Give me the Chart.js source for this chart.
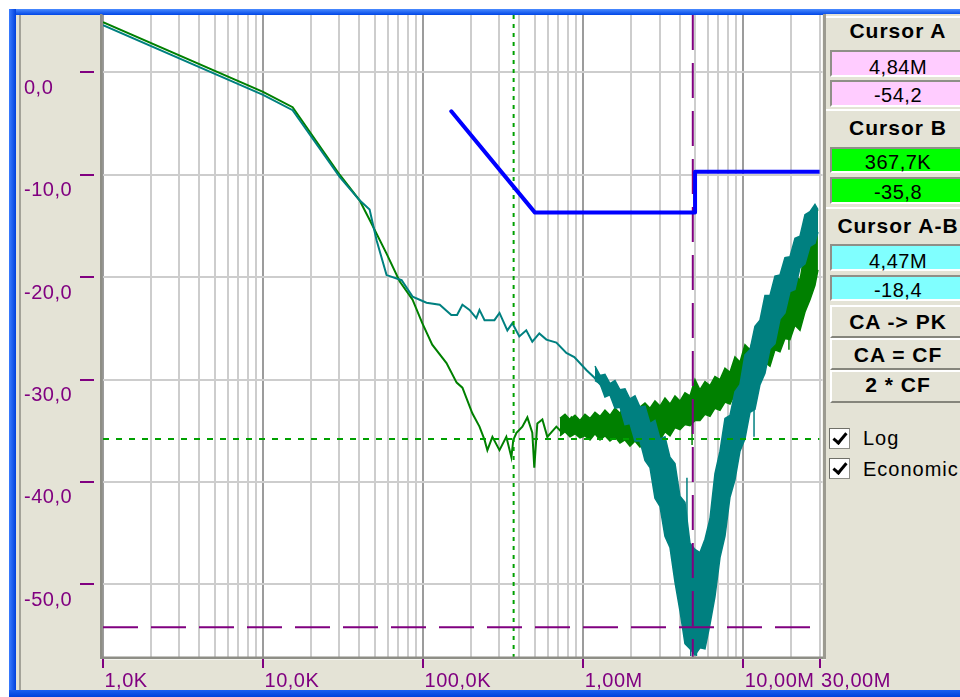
<!DOCTYPE html>
<html><head><meta charset="utf-8">
<script src="https://cdn.jsdelivr.net/npm/chart.js@4.4.1/dist/chart.umd.min.js"></script>
<style>
html,body{margin:0;padding:0;}
body{width:960px;height:697px;overflow:hidden;position:relative;background:#fff;font-family:"Liberation Sans",Arial,sans-serif;}
.abs{position:absolute;}
#c{position:absolute;left:0;top:0;z-index:2;}
#panel{position:absolute;left:823px;top:14px;width:150px;height:645px;background:#E4E3D6;border-left:3px solid #9C9B91;z-index:3;}
.hdr{position:absolute;left:0;width:150px;border-top:2px solid #fff;box-sizing:border-box;}
.box{position:absolute;left:4px;width:150px;box-sizing:border-box;border-top:2px solid #8f8f88;border-left:2px solid #8f8f88;border-bottom:2px solid #fff;}
.pink{background:#FFCCFF;}
.green{background:#00FF00;}
.cyan{background:#80FFFF;}
.btn{position:absolute;left:4px;width:150px;box-sizing:border-box;border-top:2px solid #fff;border-left:2px solid #fff;border-bottom:2px solid #85857c;}
.t{position:absolute;left:0;width:144px;text-align:center;line-height:20px;font-size:20px;letter-spacing:0.5px;color:#000;white-space:nowrap;}
.b{font-weight:bold;font-size:21px;letter-spacing:1px;}
.cb{position:absolute;left:3px;width:21px;height:21px;box-sizing:border-box;background:#fff;border:1px solid #8f8f88;border-top-color:#6f6f68;border-left-color:#6f6f68;}
.cb span{position:absolute;left:6px;top:1px;width:5px;height:11px;border-right:3px solid #000;border-bottom:3px solid #000;transform:rotate(40deg);}
.lt{position:absolute;left:37px;line-height:20px;font-size:20px;letter-spacing:1px;color:#000;white-space:nowrap;}
</style></head>
<body>
<div class="abs" style="left:9px;top:9px;width:951px;height:6px;background:linear-gradient(#4a8bff,#0046e6);"></div>
<div class="abs" style="left:9px;top:9px;width:7px;height:688px;background:linear-gradient(90deg,#3a7cff,#0040dc);"></div>
<div class="abs" style="left:9px;top:690px;width:951px;height:7px;background:linear-gradient(#1a5ef0,#0040dc);"></div>
<div class="abs" style="left:16px;top:15px;width:944px;height:675px;background:#E4E3D6;"></div>
<div class="abs" style="left:19px;top:15px;width:2px;height:675px;background:#A3A298;"></div>
<canvas id="c" width="960" height="697"></canvas>
<div id="panel">
  <div class="hdr" style="top:2px;height:31px"></div>
  <div class="box pink" style="top:36px;height:27px"></div>
  <div class="box pink" style="top:66px;height:27px"></div>
  <div class="hdr" style="top:95px;height:31px"></div>
  <div class="box green" style="top:133px;height:26px"></div>
  <div class="box green" style="top:163px;height:27px"></div>
  <div class="hdr" style="top:193px;height:31px"></div>
  <div class="box cyan" style="top:230px;height:27px"></div>
  <div class="box cyan" style="top:261px;height:26px"></div>
  <div class="btn" style="top:291px;height:33px"></div>
  <div class="btn" style="top:324px;height:32px"></div>
  <div class="btn" style="top:356px;height:33px"></div>
  <div class="t b" style="top:6.5px">Cursor A</div>
  <div class="t" style="top:43px">4,84M</div>
  <div class="t" style="top:70.5px">-54,2</div>
  <div class="t b" style="top:103.5px">Cursor B</div>
  <div class="t" style="top:138px">367,7K</div>
  <div class="t" style="top:168px">-35,8</div>
  <div class="t b" style="top:201.5px">Cursor A-B</div>
  <div class="t" style="top:236.5px">4,47M</div>
  <div class="t" style="top:265.5px">-18,4</div>
  <div class="t b" style="top:297.5px">CA -&gt; PK</div>
  <div class="t b" style="top:330.5px">CA = CF</div>
  <div class="t b" style="top:361px">2 * CF</div>
  <div class="cb" style="top:414px"><span></span></div>
  <div class="cb" style="top:444px"><span></span></div>
  <div class="lt" style="top:414px">Log</div>
  <div class="lt" style="top:444.5px">Economic</div>
</div>
<script>
// ---- axis ranges ----
const X_MIN = 1000, X_MAX = 30e6;
const Y_MIN = -57.1, Y_MAX = 5.6;
const xTickValues = [1e3, 1e4, 1e5, 1e6, 1e7, 3e7];
const xTickLabels = ['1,0K', '10,0K', '100,0K', '1,00M', '10,00M', '30,00M'];
const yTickValues = [0, -10, -20, -30, -40, -50];
const yTickLabels = ['0,0', '-10,0', '-20,0', '-30,0', '-40,0', '-50,0'];

// ---- green trace (thin part), freq in kHz, level in dB ----
const greenLineKHz = [1, 10, 15.3, 30.1, 40.1, 46.3, 59.1, 71.3, 85.9, 98.8, 114, 140, 162, 176, 203, 225, 242, 252, 271, 300, 331, 356, 366, 383, 417, 448, 481, 495, 517, 556, 597, 680, 741, 844, 946, 1061, 1207, 1374, 1564, 1729];
const greenLineDb = [4.9, -1.9, -3.4, -10.0, -12.5, -14.4, -17.7, -20.4, -22.2, -24.5, -26.6, -28.4, -30.3, -30.8, -33.3, -34.6, -35.9, -36.9, -35.6, -36.9, -35.6, -37.6, -35.9, -35.2, -34.6, -33.7, -35.2, -38.6, -34.3, -33.9, -35.6, -34.6, -35.2, -33.7, -34.6, -33.9, -35.1, -33.8, -35.0, -33.5];
// green noise band (upper / lower edge)
const greenBandKHz = [716, 770, 827, 889, 955, 1026, 1103, 1185, 1274, 1368, 1470, 1580, 1698, 1825, 1961, 2107, 2264, 2433, 2615, 2809, 3019, 3244, 3486, 3746, 4025, 4325, 4648, 4994, 5367, 5768, 6197, 6659, 7156, 7690, 8263, 8879, 9541, 10254, 11017, 11838, 12722, 13670, 14689, 15786, 16962, 18226, 19589, 21049, 22622, 24308, 26119, 28069, 29300];
const greenBandHi = [-33.8, -33.4, -33.9, -33.5, -34.0, -33.4, -33.8, -33.2, -33.6, -33.0, -33.5, -32.8, -33.3, -32.4, -33.0, -32.2, -32.7, -32.3, -32.8, -32.1, -32.6, -31.8, -32.4, -31.6, -32.1, -31.3, -31.6, -30.0, -31.0, -30.2, -30.6, -29.7, -30.0, -28.9, -29.3, -27.8, -28.3, -26.6, -27.1, -25.5, -26.0, -24.2, -24.8, -22.7, -23.4, -21.3, -21.8, -19.8, -20.3, -17.4, -16.4, -13.9, -13.4];
const greenBandLo = [-35.5, -35.1, -35.6, -35.3, -35.7, -35.5, -35.9, -35.3, -35.9, -35.5, -36.0, -35.6, -36.2, -35.9, -36.5, -36.0, -36.6, -35.9, -36.3, -35.6, -35.9, -35.1, -35.5, -34.7, -34.9, -34.4, -34.5, -34.0, -34.0, -33.4, -33.6, -32.8, -33.0, -32.2, -32.4, -31.4, -31.6, -30.5, -30.8, -29.6, -29.9, -28.3, -28.7, -27.1, -27.3, -26.0, -26.1, -24.7, -25.2, -23.4, -22.2, -20.8, -19.3];
const greenSpikeKHz = [4790, 19300];
const greenSpikeTop = [-33.8, -24.8];
const greenSpikeBot = [-36.4, -27.1];

// ---- teal trace ----
const tealLineKHz = [1, 10, 15.3, 30.1, 40.1, 46.3, 51.2, 59.1, 73.4, 85.9, 105, 127, 150, 163, 176, 195, 215, 225, 242, 279, 300, 336, 361, 399, 441, 481, 532, 589, 680, 785, 880, 1050, 1173, 1318, 1497];
const tealLineDb = [4.6, -2.2, -3.7, -10.2, -12.5, -13.4, -16.4, -19.8, -20.3, -21.9, -22.5, -22.7, -23.7, -23.7, -22.7, -23.2, -24.0, -23.2, -24.2, -24.2, -23.5, -25.2, -24.5, -25.8, -25.2, -26.3, -25.5, -26.1, -26.4, -27.4, -27.8, -29.1, -29.8, -30.7, -31.5];
const tealBandKHz = [1185, 1274, 1368, 1470, 1580, 1698, 1825, 1961, 2107, 2264, 2433, 2615, 2809, 3019, 3244, 3486, 3746, 4025, 4325, 4648, 4994, 5367, 5768, 6197, 6659, 7156, 7690, 8263, 8879, 9541, 10254, 11017, 11838, 12722, 13670, 14689, 15786, 16962, 18226, 19589, 21049, 22622, 24308, 26119, 28069, 29300];
const tealBandHi = [-28.7, -29.6, -29.5, -30.4, -30.1, -31.0, -30.9, -31.9, -31.6, -32.7, -32.6, -34.3, -34.0, -35.8, -35.6, -37.6, -38.2, -41.4, -42.0, -46.0, -46.6, -46.9, -45.6, -43.6, -39.2, -37.0, -33.8, -33.5, -31.2, -30.5, -27.6, -27.1, -24.8, -24.2, -21.8, -21.8, -19.9, -19.8, -18.1, -18.0, -16.2, -16.0, -13.9, -13.6, -12.9, -13.4];
const tealBandLo = [-30.1, -30.4, -31.7, -31.5, -32.8, -32.7, -34.4, -34.3, -36.0, -36.0, -37.9, -38.6, -41.6, -42.4, -45.3, -46.4, -49.8, -52.6, -55.8, -56.3, -56.9, -56.2, -56.3, -53.9, -51.2, -47.4, -45.3, -41.5, -39.8, -37.0, -35.8, -33.2, -32.9, -30.5, -29.4, -27.0, -26.5, -24.1, -23.5, -21.4, -21.2, -19.1, -18.7, -17.0, -16.7, -15.6];
const tealSpikeKHz = [11680, 4450, 4700, 5100, 7200];
const tealSpikeTop = [-32.0, -39.6, -52.0, -52.0, -40.0];
const tealSpikeBot = [-35.6, -44.0, -57.0, -57.0, -44.0];

// ---- limit line ----
const limitKHz = [150, 500, 5000, 5000, 30000];
const limitDb = [-3.8, -13.7, -13.7, -9.7, -9.7];

// ---- cursors ----
const cursorAKHz = 4840, cursorADb = -54.2;
const cursorBKHz = 367.7, cursorBDb = -35.8;

const pts = (fk, db) => fk.map((f, i) => ({x: f * 1000, y: db[i]}));
const spikes = (fk, top, bot) => {
  const out = [];
  fk.forEach((f, i) => { out.push({x: f * 1000, y: top[i]}, {x: f * 1000, y: bot[i]}, {x: f * 1000, y: null}); });
  return out;
};

const GREEN = '#008000', TEAL = '#008080', PURPLE = '#800080', DOTGREEN = '#00A000';
const base = {showLine: true, pointRadius: 0, pointHoverRadius: 0, tension: 0, fill: false, spanGaps: false};

const datasets = [
  Object.assign({}, base, {data: pts(greenLineKHz, greenLineDb), borderColor: GREEN, borderWidth: 2, order: 5}),
  Object.assign({}, base, {data: pts(greenBandKHz, greenBandHi), borderColor: GREEN, borderWidth: 1.5, order: 5}),
  Object.assign({}, base, {data: pts(greenBandKHz, greenBandLo), borderColor: GREEN, backgroundColor: GREEN, borderWidth: 1.5, fill: '-1', order: 5}),
  Object.assign({}, base, {data: spikes(greenSpikeKHz, greenSpikeTop, greenSpikeBot), borderColor: GREEN, borderWidth: 1.5, order: 5}),
  Object.assign({}, base, {data: pts(tealLineKHz, tealLineDb), borderColor: TEAL, borderWidth: 2, order: 3}),
  Object.assign({}, base, {data: pts(tealBandKHz, tealBandHi), borderColor: TEAL, borderWidth: 1.5, order: 3}),
  Object.assign({}, base, {data: pts(tealBandKHz, tealBandLo), borderColor: TEAL, backgroundColor: TEAL, borderWidth: 1.5, fill: '-1', order: 3}),
  Object.assign({}, base, {data: spikes(tealSpikeKHz, tealSpikeTop, tealSpikeBot), borderColor: TEAL, borderWidth: 1.5, order: 3}),
  Object.assign({}, base, {data: [{x: cursorBKHz * 1000, y: Y_MAX}, {x: cursorBKHz * 1000, y: Y_MIN}], borderColor: DOTGREEN, borderWidth: 2, borderDash: [4, 5], order: 2}),
  Object.assign({}, base, {data: [{x: X_MIN, y: cursorBDb}, {x: X_MAX, y: cursorBDb}], borderColor: DOTGREEN, borderWidth: 2, borderDash: [6, 7], order: 2}),
  Object.assign({}, base, {data: [{x: cursorAKHz * 1000, y: Y_MAX}, {x: cursorAKHz * 1000, y: Y_MIN}], borderColor: PURPLE, borderWidth: 2, borderDash: [35, 13], order: 1}),
  Object.assign({}, base, {data: [{x: X_MIN, y: cursorADb}, {x: X_MAX, y: cursorADb}], borderColor: PURPLE, borderWidth: 2, borderDash: [35, 13], order: 1}),
  Object.assign({}, base, {data: pts(limitKHz, limitDb), borderColor: '#0000FF', borderWidth: 4, borderCapStyle: 'round', borderJoinStyle: 'round', order: 0})
];

const decoPlugin = {
  id: 'deco',
  beforeDatasetsDraw(chart) {
    const {ctx, chartArea: a} = chart;
    const xs = chart.scales.x, ys = chart.scales.y;
    ctx.save();
    ctx.fillStyle = '#ffffff';
    ctx.fillRect(a.left - 1, a.top, a.right - a.left + 4, a.bottom - a.top);
    for (let d = 1e3; d <= X_MAX; d *= 10) {
      for (let m = 1; m <= 9; m++) {
        const v = d * m;
        if (v > X_MAX) break;
        const px = Math.round(xs.getPixelForValue(v));
        ctx.fillStyle = m === 1 ? '#9c9c9c' : '#cdcdcd';
        ctx.fillRect(px - 1, a.top, 2, a.bottom - a.top);
      }
    }
    yTickValues.forEach(v => {
      const py = Math.round(ys.getPixelForValue(v));
      ctx.fillStyle = '#cdcdcd';
      ctx.fillRect(a.left, py - 1, a.right - a.left + 3, 2);
    });
    ctx.restore();
  },
  afterDraw(chart) {
    const {ctx} = chart;
    const xs = chart.scales.x, ys = chart.scales.y;
    ctx.save();
    ctx.fillStyle = '#8e8e86';
    ctx.fillRect(100, 14, 2.5, 645);
    ctx.fillRect(100, 656.5, 726, 2.5);
    ctx.fillStyle = '#f4f4ee';
    ctx.fillRect(100, 659, 726, 1);
    ctx.fillStyle = PURPLE;
    ctx.font = '20px "Liberation Sans", Arial, sans-serif';
    try { ctx.letterSpacing = '0.5px'; } catch (e) {}
    ctx.textBaseline = 'alphabetic';
    ctx.textAlign = 'left';
    yTickValues.forEach((v, i) => {
      const py = ys.getPixelForValue(v);
      ctx.fillRect(80, Math.round(py) - 1, 14, 2);
      ctx.fillText(yTickLabels[i], 24, py + 21.5);
    });
    xTickValues.forEach((v, i) => {
      const px = xs.getPixelForValue(v);
      ctx.fillRect(Math.round(px) - 1, 659, 2, 9);
      ctx.fillText(xTickLabels[i], px + 1.5, 687);
    });
    ctx.restore();
  }
};

new Chart(document.getElementById('c'), {
  type: 'scatter',
  data: {datasets},
  options: {
    responsive: false,
    devicePixelRatio: 1,
    animation: false,
    events: [],
    layout: {padding: {left: 103, top: 15, right: 140.4, bottom: 40}},
    plugins: {legend: {display: false}, tooltip: {enabled: false}, title: {display: false}},
    scales: {
      x: {type: 'logarithmic', min: X_MIN, max: X_MAX, display: false},
      y: {type: 'linear', min: Y_MIN, max: Y_MAX, display: false}
    }
  },
  plugins: [decoPlugin]
});
</script>
</body></html>
